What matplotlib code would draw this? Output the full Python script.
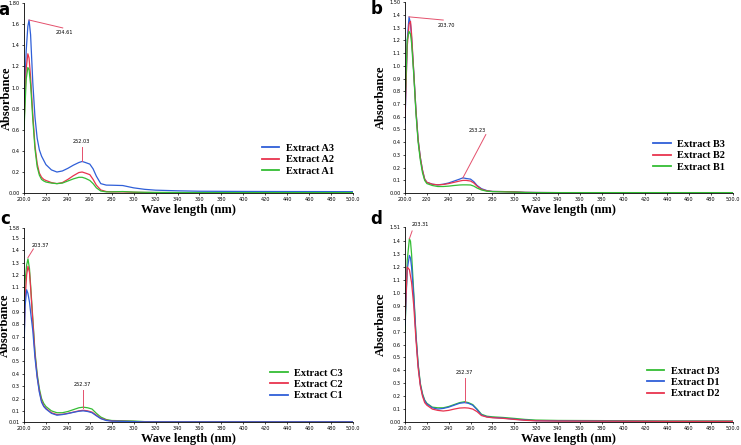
import matplotlib
matplotlib.use("Agg")
import matplotlib.pyplot as plt

# ---- data ----
wl_a = [200, 202, 203.5, 204.6, 206, 208, 210, 212, 214, 216, 218, 220, 225, 230, 235, 240, 245, 250,
        253, 256, 260, 263, 266, 270, 275, 280, 290, 300, 310, 320, 340, 360, 400, 440, 500]
a3 = [0.80, 1.35, 1.58, 1.64, 1.50, 1.05, 0.72, 0.52, 0.41, 0.35, 0.31, 0.27, 0.22, 0.20, 0.21, 0.235, 0.265, 0.29,
      0.30, 0.29, 0.275, 0.23, 0.16, 0.09, 0.076, 0.075, 0.072, 0.05, 0.036, 0.028, 0.022, 0.018, 0.016, 0.015, 0.014]
a2 = [0.65, 1.18, 1.32, 1.28, 1.10, 0.75, 0.45, 0.28, 0.19, 0.15, 0.13, 0.12, 0.10, 0.09, 0.10, 0.13, 0.165, 0.195,
      0.20, 0.19, 0.175, 0.13, 0.075, 0.03, 0.015, 0.012, 0.012, 0.008, 0.006, 0.005, 0.004, 0.004, 0.004, 0.004, 0.004]
a1 = [0.60, 1.08, 1.19, 1.17, 1.03, 0.70, 0.42, 0.25, 0.17, 0.13, 0.115, 0.105, 0.095, 0.09, 0.095, 0.115, 0.135, 0.15,
      0.15, 0.14, 0.12, 0.09, 0.05, 0.02, 0.012, 0.012, 0.015, 0.01, 0.008, 0.007, 0.006, 0.005, 0.005, 0.005, 0.005]

wl_b = [200, 202, 203.7, 205, 206, 208, 210, 212, 214, 216, 218, 220, 225, 230, 235, 240, 245, 250,
        253, 256, 260, 263, 266, 270, 275, 280, 290, 300, 310, 320, 340, 400, 440, 500]
b3 = [0.55, 1.20, 1.385, 1.33, 1.22, 0.95, 0.65, 0.42, 0.28, 0.18, 0.11, 0.085, 0.07, 0.065, 0.07, 0.08, 0.095, 0.11,
      0.12, 0.115, 0.11, 0.09, 0.06, 0.035, 0.02, 0.013, 0.012, 0.01, 0.006, 0.005, 0.004, 0.004, 0.004, 0.004]
b2 = [0.60, 1.15, 1.33, 1.35, 1.25, 0.95, 0.65, 0.42, 0.28, 0.18, 0.11, 0.085, 0.07, 0.065, 0.068, 0.075, 0.085, 0.095,
      0.10, 0.10, 0.095, 0.08, 0.055, 0.03, 0.018, 0.013, 0.012, 0.01, 0.006, 0.005, 0.004, 0.004, 0.004, 0.004]
b1 = [0.70, 1.20, 1.27, 1.25, 1.18, 0.93, 0.63, 0.40, 0.26, 0.16, 0.10, 0.075, 0.06, 0.052, 0.052, 0.055, 0.06, 0.064,
      0.065, 0.065, 0.064, 0.055, 0.04, 0.025, 0.015, 0.012, 0.01, 0.008, 0.005, 0.004, 0.004, 0.004, 0.004, 0.004]

wl_c = [200, 201, 202.4, 203.6, 205, 206, 208, 210, 212, 214, 216, 218, 220, 225, 230, 235, 240, 245,
        250, 254, 258, 262, 266, 270, 275, 280, 290, 300, 310, 320, 340, 400, 440, 500]
c3 = [0.90, 1.15, 1.28, 1.33, 1.25, 1.12, 0.85, 0.58, 0.40, 0.28, 0.20, 0.16, 0.135, 0.10, 0.085, 0.085, 0.095, 0.11,
      0.125, 0.13, 0.125, 0.115, 0.08, 0.05, 0.03, 0.022, 0.02, 0.018, 0.013, 0.012, 0.012, 0.012, 0.012, 0.012]
c2 = [0.65, 1.00, 1.20, 1.27, 1.22, 1.10, 0.83, 0.56, 0.38, 0.26, 0.18, 0.14, 0.12, 0.085, 0.07, 0.072, 0.08, 0.09,
      0.10, 0.105, 0.10, 0.09, 0.065, 0.04, 0.025, 0.018, 0.016, 0.014, 0.011, 0.011, 0.011, 0.011, 0.011, 0.011]
c1 = [0.60, 0.95, 1.08, 1.05, 0.98, 0.90, 0.75, 0.53, 0.37, 0.25, 0.17, 0.135, 0.115, 0.08, 0.065, 0.07, 0.078, 0.088,
      0.097, 0.10, 0.095, 0.085, 0.06, 0.037, 0.022, 0.017, 0.015, 0.013, 0.011, 0.011, 0.011, 0.011, 0.011, 0.011]

wl_d = [200, 202, 204, 205, 206, 208, 210, 212, 214, 216, 218, 220, 225, 230, 235, 240, 245, 250,
        254.5, 258, 262, 266, 270, 275, 280, 290, 300, 310, 320, 340, 400, 440, 500]
d3 = [0.70, 1.25, 1.42, 1.40, 1.30, 1.00, 0.68, 0.45, 0.30, 0.22, 0.17, 0.145, 0.115, 0.11, 0.11, 0.12, 0.135, 0.15,
      0.157, 0.15, 0.135, 0.10, 0.06, 0.045, 0.04, 0.035, 0.028, 0.02, 0.015, 0.012, 0.01, 0.008, 0.008]
d1 = [0.75, 1.18, 1.29, 1.27, 1.20, 0.97, 0.67, 0.44, 0.29, 0.21, 0.165, 0.14, 0.11, 0.10, 0.105, 0.115, 0.13, 0.145,
      0.15, 0.145, 0.13, 0.095, 0.055, 0.04, 0.035, 0.03, 0.022, 0.015, 0.01, 0.008, 0.006, 0.005, 0.005]
d2 = [0.80, 1.20, 1.18, 1.13, 1.08, 0.90, 0.64, 0.42, 0.28, 0.20, 0.15, 0.13, 0.10, 0.09, 0.085, 0.09, 0.10, 0.108,
      0.11, 0.108, 0.10, 0.08, 0.05, 0.038, 0.033, 0.028, 0.02, 0.013, 0.009, 0.007, 0.006, 0.005, 0.005]

x_ticks = list(range(200, 501, 20))
x_labels = ["200.0"] + [str(v) for v in x_ticks[1:-1]] + ["500.0"]

yt_a = [0, 0.2, 0.4, 0.6, 0.8, 1.0, 1.2, 1.4, 1.6, 1.8]
yl_a = ["0.00", "0.2", "0.4", "0.6", "0.8", "1.0", "1.2", "1.4", "1.6", "1.80"]
yt_b = [0, 0.1, 0.2, 0.3, 0.4, 0.5, 0.6, 0.7, 0.8, 0.9, 1.0, 1.1, 1.2, 1.3, 1.4, 1.5]
yl_b = ["0.00"] + ["%.1f" % v for v in yt_b[1:-1]] + ["1.50"]
yt_c = [0.01, 0.1, 0.2, 0.3, 0.4, 0.5, 0.6, 0.7, 0.8, 0.9, 1.0, 1.1, 1.2, 1.3, 1.4, 1.5, 1.58]
yl_c = ["0.01"] + ["%.1f" % v for v in yt_c[1:-1]] + ["1.58"]
yt_d = [0, 0.1, 0.2, 0.3, 0.4, 0.5, 0.6, 0.7, 0.8, 0.9, 1.0, 1.1, 1.2, 1.3, 1.4, 1.51]
yl_d = ["0.00"] + ["%.1f" % v for v in yt_d[1:-1]] + ["1.51"]

BLUE = "#2f5fd8"
RED = "#e8344e"
GREEN = "#34bd34"
ANN = "#e4506c"
SERIF = "Liberation Serif"


def draw_panel(ax, wl, series, yticks, ylabels, legend_anchor, ylabel_x):
    for name, vals, col in series:
        ax.plot(wl, vals, color=col, lw=0.9, label=name)
    ax.set_xlim(200, 500)
    ax.set_ylim(yticks[0], yticks[-1])
    ax.set_xticks(x_ticks)
    ax.set_xticklabels(x_labels)
    ax.set_yticks(yticks)
    ax.set_yticklabels(ylabels)
    ax.tick_params(labelsize=3.6, length=1.5, width=0.5, pad=1.5)
    for s in ("top", "right"):
        ax.spines[s].set_visible(False)
    for s in ("left", "bottom"):
        ax.spines[s].set_linewidth(0.6)
    ax.set_xlabel("Wave length (nm)", family=SERIF, fontweight="bold", fontsize=9, labelpad=1)
    ax.set_ylabel("Absorbance", family=SERIF, fontweight="bold", fontsize=9)
    ax.yaxis.set_label_coords(ylabel_x, 0.5)
    leg = ax.legend(loc="lower left", bbox_to_anchor=legend_anchor, frameon=False,
                    prop={"family": SERIF, "weight": "bold", "size": 7.5},
                    handlelength=1.7, handletextpad=0.6, labelspacing=0.2, borderaxespad=0)
    for h in leg.get_lines():
        h.set_linewidth(1.3)


def annotate(ax, p0, p1, text, tx, ty):
    ax.plot([p0[0], p1[0]], [p0[1], p1[1]], color=ANN, lw=0.7)
    ax.text(tx, ty, text, fontsize=3.6, ha="center", va="center")


fig = plt.figure(figsize=(7.41, 4.45), dpi=100)

ax_a = fig.add_axes([0.0324, 0.566, 0.444, 0.427])
draw_panel(ax_a, wl_a, [("Extract A3", a3, BLUE), ("Extract A2", a2, RED), ("Extract A1", a1, GREEN)],
           yt_a, yl_a, (0.71, 0.07), -0.033)
annotate(ax_a, (204.6, 1.64), (235.3, 1.565), "204.61", 237, 1.525)
annotate(ax_a, (252.6, 0.30), (252.6, 0.44), "252.03", 252, 0.49)

ax_b = fig.add_axes([0.5466, 0.566, 0.442, 0.429])
draw_panel(ax_b, wl_b, [("Extract B3", b3, BLUE), ("Extract B2", b2, RED), ("Extract B1", b1, GREEN)],
           yt_b, yl_b, (0.745, 0.09), -0.054)
annotate(ax_b, (203.7, 1.385), (235, 1.36), "203.70", 238, 1.32)
annotate(ax_b, (253, 0.12), (274, 0.46), "253.23", 266, 0.49)

ax_c = fig.add_axes([0.0324, 0.0517, 0.444, 0.436])
draw_panel(ax_c, wl_c, [("Extract C3", c3, GREEN), ("Extract C2", c2, RED), ("Extract C1", c1, BLUE)],
           yt_c, yl_c, (0.735, 0.09), -0.040)
annotate(ax_c, (203.6, 1.34), (208.5, 1.41), "203.37", 214.6, 1.44)
annotate(ax_c, (254, 0.125), (254, 0.27), "252.37", 253, 0.31)

ax_d = fig.add_axes([0.5466, 0.0517, 0.442, 0.438])
draw_panel(ax_d, wl_d, [("Extract D3", d3, GREEN), ("Extract D1", d1, BLUE), ("Extract D2", d2, RED)],
           yt_d, yl_d, (0.725, 0.10), -0.054)
annotate(ax_d, (204, 1.42), (206.5, 1.48), "203.31", 213.6, 1.53)
annotate(ax_d, (254.5, 0.157), (254.5, 0.34), "252.37", 254.5, 0.38)

for lbl, x, y in [("a", -0.002, 0.998), ("b", 0.500, 1.0), ("c", 0.0, 0.528), ("d", 0.500, 0.528)]:
    fig.text(x, y, lbl, fontsize=12, fontweight="bold", va="top", ha="left")

fig.savefig("out.png", dpi=100)
